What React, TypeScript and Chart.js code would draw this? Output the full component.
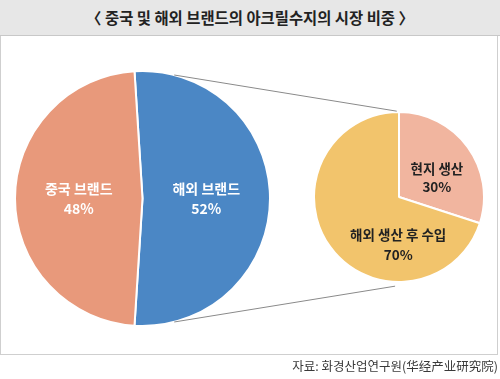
import React, { useEffect, useRef, useState } from 'react';
import { Chart, registerables } from 'chart.js';
Chart.register(...registerables);

const titleText = '〈 중국 및 해외 브랜드의 아크릴수지의 시장 비중 〉';
const sourceText = '자료: 화경산업연구원(华经产业研究院)';

const mainLabels = ['해외 브랜드', '중국 브랜드'];
const mainValues = [52, 48];
const subLabels = ['현지 생산', '해외 생산 후 수입'];
const subValues = [30, 70];

const mainColors = ['#4b87c5', '#e8997b'];
const subColors = ['#f1b59f', '#f2c46c'];

const FONT = '"Noto Sans CJK KR", "Noto Sans", sans-serif';

type LabelStyle = { color: string; font: string; gap: number; anchor?: [number, number] };

function makeLabelPlugin(id: string, labels: string[], values: number[], styles: LabelStyle[]) {
  return {
    id,
    afterDatasetsDraw(chart: any) {
      const ctx = chart.ctx;
      const meta = chart.getDatasetMeta(0);
      meta.data.forEach((arc: any, i: number) => {
        const st = styles[i];
        let x: number, y: number;
        if (st.anchor) {
          const a = (st.anchor[0] * Math.PI) / 180;
          const r = st.anchor[1] * arc.outerRadius;
          x = arc.x + r * Math.sin(a);
          y = arc.y - r * Math.cos(a);
        } else {
          const p = arc.tooltipPosition();
          x = p.x;
          y = p.y;
        }
        ctx.save();
        ctx.fillStyle = st.color;
        ctx.font = st.font;
        ctx.textAlign = 'center';
        ctx.textBaseline = 'middle';
        ctx.fillText(labels[i], x, y - st.gap / 2);
        ctx.fillText(values[i] + '%', x, y + st.gap / 2);
        ctx.restore();
      });
    },
  };
}

const MAIN_BOX = { left: 14, top: 70, size: 257 };
const SUB_BOX = { left: 313, top: 111, size: 172 };

export default function App() {
  const mainRef = useRef<HTMLCanvasElement>(null);
  const subRef = useRef<HTMLCanvasElement>(null);
  const [lines, setLines] = useState<number[][]>([]);

  useEffect(() => {
    document.body.style.margin = '0';
    const common = {
      responsive: false,
      animation: false as const,
      devicePixelRatio: 1,
      layout: { padding: 0 },
      plugins: { legend: { display: false }, tooltip: { enabled: false } },
      events: [] as any[],
    };
    const main = new Chart(mainRef.current!, {
      type: 'pie',
      data: {
        labels: mainLabels,
        datasets: [{ data: mainValues, backgroundColor: mainColors, borderColor: '#ffffff', borderWidth: 2 }],
      },
      options: { ...common, rotation: -3.6 } as any,
      plugins: [
        makeLabelPlugin('mainLabels', mainLabels, mainValues, [
          { color: '#ffffff', font: `bold 14px ${FONT}`, gap: 20 },
          { color: '#ffffff', font: `bold 14px ${FONT}`, gap: 20 },
        ]),
      ],
    });
    const sub = new Chart(subRef.current!, {
      type: 'pie',
      data: {
        labels: subLabels,
        datasets: [{ data: subValues, backgroundColor: subColors, borderColor: '#ffffff', borderWidth: 2 }],
      },
      options: { ...common, rotation: 0 } as any,
      plugins: [
        makeLabelPlugin('subLabels', subLabels, subValues, [
          { color: '#222222', font: `bold 13.5px ${FONT}`, gap: 18, anchor: [63, 0.5] },
          { color: '#222222', font: `bold 13.5px ${FONT}`, gap: 20, anchor: [181, 0.56] },
        ]),
      ],
    });
    const ma: any = main.getDatasetMeta(0).data[0];
    const sa: any = sub.getDatasetMeta(0).data[0];
    const mc = { x: MAIN_BOX.left + ma.x, y: MAIN_BOX.top + ma.y, r: ma.outerRadius };
    const sc = { x: SUB_BOX.left + sa.x, y: SUB_BOX.top + sa.y, r: sa.outerRadius };
    const pt = (c: any, deg: number, k: number) => {
      const a = (deg * Math.PI) / 180;
      return [c.x + c.r * k * Math.sin(a), c.y - c.r * k * Math.cos(a)];
    };
    const p1 = pt(mc, 14.4, 1.0);
    const p2 = pt(sc, -1.5, 1.01);
    const p3 = pt(mc, 165.6, 1.0);
    const p4 = pt(sc, 182.5, 1.05);
    setLines([
      [p1[0], p1[1], p2[0], p2[1]],
      [p3[0], p3[1], p4[0], p4[1]],
    ]);
    return () => {
      main.destroy();
      sub.destroy();
    };
  }, []);

  return (
    <div style={{ position: 'absolute', left: 0, top: 0, width: 500, height: 379, background: '#fff', fontFamily: FONT }}>
      <div
        style={{
          position: 'absolute', left: 0, top: 0, width: 500, height: 35,
          background: '#e7e7e7', borderBottom: '1px solid #c8c8c8',
        }}
      />
      <div
        style={{
          position: 'absolute', left: 0, top: 0, width: 500, height: 35, lineHeight: '35px',
          textAlign: 'center', fontSize: 15.4, fontWeight: 'bold', color: '#222222',
        }}
      >
        {titleText}
      </div>
      <div
        style={{
          position: 'absolute', left: 0, top: 36, width: 496, height: 318,
          borderLeft: '1px solid #cfcfcf', borderRight: '1px solid #cfcfcf', borderBottom: '1px solid #cfcfcf',
        }}
      />
      <canvas
        ref={mainRef}
        width={MAIN_BOX.size}
        height={MAIN_BOX.size}
        style={{ position: 'absolute', left: MAIN_BOX.left, top: MAIN_BOX.top, width: MAIN_BOX.size, height: MAIN_BOX.size }}
      />
      <canvas
        ref={subRef}
        width={SUB_BOX.size}
        height={SUB_BOX.size}
        style={{ position: 'absolute', left: SUB_BOX.left, top: SUB_BOX.top, width: SUB_BOX.size, height: SUB_BOX.size }}
      />
      <svg width={500} height={379} style={{ position: 'absolute', left: 0, top: 0, pointerEvents: 'none' }}>
        {lines.map((l, i) => (
          <line key={i} x1={l[0]} y1={l[1]} x2={l[2]} y2={l[3]} stroke="#8a8a8a" strokeWidth={1} />
        ))}
      </svg>
      <div
        style={{
          position: 'absolute', right: 2, top: 358, fontSize: 12.5, color: '#3a3a3a', whiteSpace: 'nowrap',
          lineHeight: '16px',
        }}
      >
        {sourceText}
      </div>
    </div>
  );
}
